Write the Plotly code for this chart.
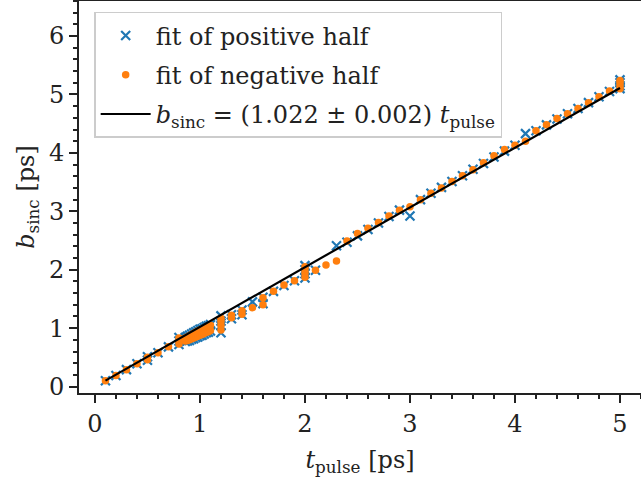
import plotly.graph_objects as go

# ---------------- data ----------------
cluster_t = [0.86, 0.86, 0.88, 0.88, 0.9, 0.9, 0.92, 0.92, 0.94, 0.94, 0.96, 0.96,
             0.98, 0.98, 1.0, 1.0, 1.02, 1.02, 1.04, 1.04, 1.06, 1.06, 1.08, 1.08, 1.1, 1.1]

t_pos = ([0.1, 0.2, 0.3, 0.4, 0.5, 0.5, 0.6, 0.7, 0.8, 0.8, 0.8] + cluster_t +
         [1.2, 1.2, 1.2, 1.2, 1.3, 1.3, 1.4, 1.4, 1.5, 1.6, 1.6, 1.7, 1.8, 1.9,
          2.0, 2.0, 2.0, 2.0, 2.1,
          2.3, 2.4, 2.5, 2.6, 2.7, 2.8, 2.9, 3.0, 3.1, 3.2, 3.3, 3.4, 3.5, 3.6, 3.7,
          3.8, 3.9, 4.0, 4.1, 4.2, 4.3, 4.4, 4.5, 4.6, 4.7, 4.8, 4.9, 5.0, 5.0, 5.0, 5.0])
b_pos = [0.10, 0.19, 0.29, 0.39, 0.45, 0.51, 0.58, 0.68, 0.72, 0.78, 0.84,
         0.77, 0.84, 0.78, 0.86, 0.79, 0.88, 0.81, 0.90, 0.82, 0.92, 0.84, 0.94,
         0.85, 0.96, 0.87, 0.98, 0.88, 0.99, 0.90, 1.01, 0.92, 1.03, 0.93, 1.04, 0.95, 1.06,
         0.92, 1.04, 1.12, 1.21, 1.16, 1.23, 1.23, 1.31, 1.45, 1.42, 1.53, 1.63, 1.73, 1.81,
         1.86, 1.93, 2.00, 2.07, 1.99,
         2.41, 2.47, 2.58, 2.69, 2.80, 2.91, 3.02, 2.92, 3.20, 3.31, 3.41, 3.51, 3.61, 3.72,
         3.82, 3.93, 4.03, 4.13, 4.33, 4.38, 4.48, 4.58, 4.67, 4.76, 4.86, 4.96, 5.05,
         5.10, 5.15, 5.20, 5.25]

t_neg = ([0.1, 0.2, 0.3, 0.4, 0.5, 0.5, 0.6, 0.7, 0.8, 0.8, 0.8] + cluster_t +
         [1.2, 1.2, 1.2, 1.2, 1.3, 1.3, 1.4, 1.4, 1.5, 1.6, 1.6, 1.7, 1.8, 1.9,
          2.0, 2.0, 2.0, 2.0, 2.1, 2.2,
          2.3, 2.4, 2.5, 2.6, 2.7, 2.8, 2.9, 3.0, 3.1, 3.2, 3.3, 3.4, 3.5, 3.6, 3.7,
          3.8, 3.9, 4.0, 4.1, 4.2, 4.3, 4.4, 4.5, 4.6, 4.7, 4.8, 4.9, 5.0, 5.0, 5.0, 5.0])
b_neg = [0.10, 0.19, 0.29, 0.39, 0.46, 0.50, 0.58, 0.68, 0.73, 0.78, 0.83,
         0.78, 0.83, 0.79, 0.85, 0.80, 0.87, 0.82, 0.89, 0.83, 0.91, 0.85, 0.93,
         0.86, 0.95, 0.88, 0.97, 0.89, 0.98, 0.91, 1.00, 0.93, 1.02, 0.94, 1.03, 0.96, 1.05,
         0.97, 1.05, 1.12, 1.17, 1.18, 1.22, 1.24, 1.30, 1.35, 1.40, 1.52, 1.63, 1.74, 1.81,
         1.87, 1.94, 2.00, 2.05, 1.99, 2.08,
         2.15, 2.49, 2.62, 2.71, 2.81, 2.92, 3.02, 3.08, 3.20, 3.31, 3.40, 3.51, 3.61, 3.71,
         3.83, 3.95, 4.06, 4.13, 4.20, 4.38, 4.48, 4.59, 4.67, 4.76, 4.86, 4.96, 5.06,
         5.10, 5.15, 5.20, 5.24]

fit_t = [0.1, 5.0]
fit_b = [0.102, 5.11]

x_ticks = [0, 1, 2, 3, 4, 5]
y_ticks = [0, 1, 2, 3, 4, 5, 6]

BLUE = "#1f77b4"
ORANGE = "#ff7f0e"
FONT = "DejaVu Serif"
FS = 24
LFS = 24

fig = go.Figure()
fig.add_trace(go.Scatter(
    x=t_pos, y=b_pos, mode="markers", name="fit of positive half",
    legendgroup="a",
    marker=dict(symbol="x-thin", size=9, color=BLUE, line=dict(color=BLUE, width=2.2)),
))
fig.add_trace(go.Scatter(
    x=t_neg, y=b_neg, mode="markers", name="fit of negative half",
    legendgroup="b",
    marker=dict(symbol="circle", size=7.5, color=ORANGE, line=dict(width=0)),
))
fig.add_trace(go.Scatter(
    x=fit_t, y=fit_b, mode="lines", legendgroup="c",
    name="<i>b</i><sub>sinc</sub> = (1.022 ± 0.002) <i>t</i><sub>pulse</sub>",
    line=dict(color="black", width=2.2),
))

axis_common = dict(
    showgrid=False, zeroline=False, showline=True, linecolor="#222222", linewidth=1.8,
    ticks="outside", ticklen=8, tickwidth=1.8, tickcolor="#222222", automargin=False,
    tickfont=dict(family=FONT, size=FS, color="#222222"),
    minor=dict(ticks="outside", ticklen=4.5, tickwidth=1.5, tickcolor="#222222", dtick=0.2),
)

fig.update_layout(
    width=641, height=487,
    margin=dict(l=79, r=0, t=1, b=94, autoexpand=False),
    paper_bgcolor="white", plot_bgcolor="white",
    font=dict(family=FONT, size=FS, color="#222222"),
    showlegend=True,
    legend=dict(
        x=0.027, y=0.972, xanchor="left", yanchor="top",
        bgcolor="rgba(255,255,255,0.8)", bordercolor="#cccccc", borderwidth=1.5,
        font=dict(family=FONT, size=LFS, color="#222222"),
        traceorder="grouped", tracegroupgap=5, itemwidth=50,
    ),
    xaxis=dict(
        range=[-0.152, 5.2], tickmode="array", tickvals=x_ticks,
        ticktext=[str(v) for v in x_ticks], mirror=True,
        title=dict(text="<i>t</i><sub>pulse</sub> [ps]", standoff=14,
                   font=dict(family=FONT, size=FS)),
        **axis_common,
    ),
    yaxis=dict(
        range=[-0.11, 6.6], tickmode="array", tickvals=y_ticks,
        ticktext=[str(v) for v in y_ticks],
        title=dict(text="<i>b</i><sub>sinc</sub> [ps]", standoff=8,
                   font=dict(family=FONT, size=FS)),
        **axis_common,
    ),
)

fig.write_html(
    "out.html",
    config={"displayModeBar": False},
    post_script="document.body.style.margin='0';document.body.style.overflow='hidden';",
)
